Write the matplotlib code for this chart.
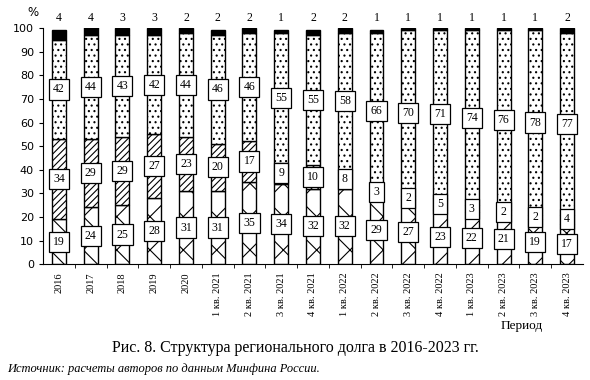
import matplotlib
matplotlib.use("Agg")
import matplotlib.pyplot as plt
import numpy as np

# периоды
periods = ["2016", "2017", "2018", "2019", "2020",
           "1 кв. 2021", "2 кв. 2021", "3 кв. 2021", "4 кв. 2021",
           "1 кв. 2022", "2 кв. 2022", "3 кв. 2022", "4 кв. 2022",
           "1 кв. 2023", "2 кв. 2023", "3 кв. 2023", "4 кв. 2023"]
# доли, %
cross = [19, 24, 25, 28, 31, 31, 35, 34, 32, 32, 29, 27, 23, 22, 21, 19, 17]
diag = [34, 29, 29, 27, 23, 20, 17, 9, 10, 8, 3, 2, 5, 3, 2, 2, 4]
dots = [42, 44, 43, 42, 44, 46, 46, 55, 55, 58, 66, 70, 71, 74, 76, 78, 77]
black = [4, 4, 3, 3, 2, 2, 2, 1, 2, 2, 1, 1, 1, 1, 1, 1, 2]

serif = "Liberation Serif"
plt.rcParams["hatch.linewidth"] = 0.8

fig = plt.figure(figsize=(5.9, 3.8), dpi=100)
ax = fig.add_axes([0.073, 0.305, 0.915, 0.621])

x = np.arange(len(periods))
w = 0.44
b1 = np.array(cross)
b2 = b1 + np.array(diag)
b3 = b2 + np.array(dots)

ax.bar(x, cross, w, color="white", edgecolor="black", hatch="x", lw=1)
ax.bar(x, diag, w, bottom=b1, color="white", edgecolor="black", hatch="/////", lw=1)
ax.bar(x, dots, w, bottom=b2, color="white", edgecolor="black", hatch="...", lw=1)
ax.bar(x, black, w, bottom=b3, color="black", edgecolor="black", lw=1)

box = dict(boxstyle="square,pad=0.35", fc="white", ec="black", lw=0.9)
for i in x:
    ax.text(i, cross[i] / 2, str(cross[i]), ha="center", va="center",
            fontsize=8.5, family=serif, bbox=box)
    ax.text(i, b1[i] + diag[i] / 2, str(diag[i]), ha="center", va="center",
            fontsize=8.5, family=serif, bbox=box)
    ax.text(i, b2[i] + dots[i] / 2, str(dots[i]), ha="center", va="center",
            fontsize=8.5, family=serif, bbox=box)
    ax.text(i, 104.5, str(black[i]), ha="center", va="center",
            fontsize=8.5, family=serif, clip_on=False)

ax.set_xlim(-0.5, 16.5)
ax.set_ylim(0, 100)
ax.set_yticks(range(0, 101, 10))
ax.tick_params(axis="y", labelsize=8, direction="out", length=3)
ax.set_xticks(x)
ax.set_xticklabels(periods, rotation=90, family=serif, fontsize=7.5)
ax.set_xticks(x[:-1] + 0.5, minor=True)
ax.tick_params(axis="x", which="major", length=0, pad=6)
ax.tick_params(axis="x", which="minor", length=3, direction="out")
ax.spines["top"].set_visible(False)
ax.spines["right"].set_visible(False)

fig.text(0.056, 0.968, "%", fontsize=8.5, ha="center", va="center")
fig.text(0.885, 0.135, "Период", family=serif, fontsize=9.5, ha="center")
fig.text(0.5, 0.075, "Рис. 8. Структура регионального долга в 2016-2023 гг.",
         family=serif, fontsize=11.5, ha="center")
fig.text(0.012, 0.02, "Источник: расчеты авторов по данным Минфина России.",
         family=serif, style="italic", fontsize=9, ha="left")

fig.savefig("out.png", dpi=100)
